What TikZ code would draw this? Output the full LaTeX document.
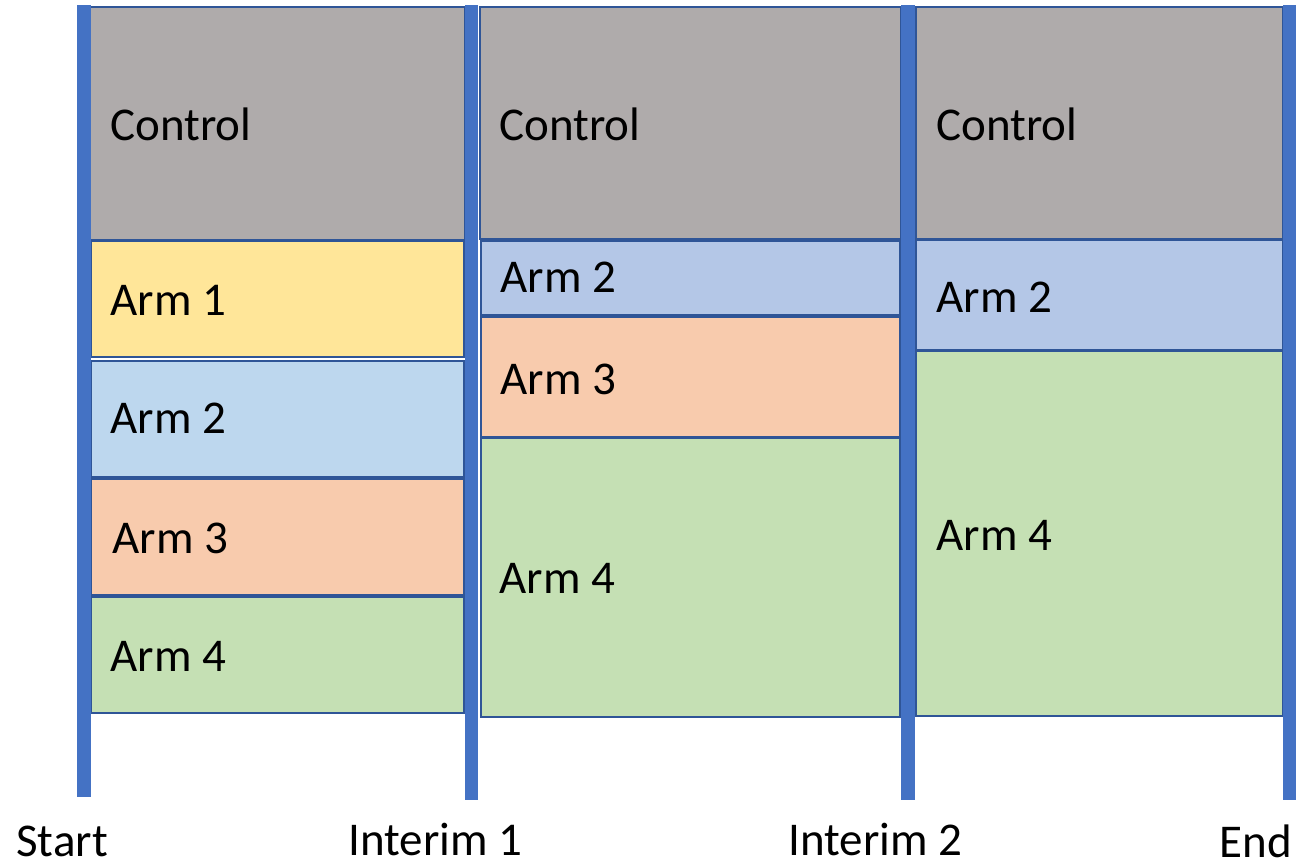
\documentclass[tikz,border=0pt]{standalone}
\usepackage{fontspec}
\setmainfont{Carlito}
\definecolor{ctrlgray}{HTML}{AFABAB}
\definecolor{armyellow}{HTML}{FFE699}
\definecolor{armsky}{HTML}{BDD7EE}
\definecolor{armblue}{HTML}{B4C7E7}
\definecolor{armpeach}{HTML}{F8CBAD}
\definecolor{armgreen}{HTML}{C5E0B4}
\definecolor{edgeblue}{HTML}{2F5597}
\definecolor{barblue}{HTML}{4472C4}
\tikzset{
  cell/.style={draw=edgeblue, line width=1.1pt},
  bar/.style={fill=barblue, draw=none},
  lbl/.style={anchor=base west, inner sep=0pt, font=\fontsize{23.5}{28}\selectfont},
}
\begin{document}
\begin{tikzpicture}[x=0.5pt, y=-0.5pt]
\useasboundingbox (0,0) rectangle (1306,867);

% first period
\path[cell, fill=ctrlgray]  (90,7)   rectangle (465,240);
\path[cell, fill=armyellow] (91,241) rectangle (464,357);
\path[cell, fill=armsky]    (91,361) rectangle (464,477);
\path[cell, fill=armpeach]  (91,479) rectangle (464,595);
\path[cell, fill=armgreen]  (91,597) rectangle (464,713);
\node[lbl] (c1) at (110,140) {Control};
\node[lbl] (a11) at (110,315) {Arm 1};
\node[lbl] (a12) at (110,433) {Arm 2};
\node[lbl] (a13) at (112,553) {Arm 3};
\node[lbl] (a14) at (110,671) {Arm 4};

% second period
\path[cell, fill=ctrlgray]  (480,7)   rectangle (901,239);
\path[cell, fill=armblue]   (481,241) rectangle (900,315);
\path[cell, fill=armpeach]  (481,317) rectangle (900,437);
\path[cell, fill=armgreen]  (481,438) rectangle (900,717);
\node[lbl] (c2) at (499,140) {Control};
\node[lbl] (a22) at (500,292) {Arm 2};
\node[lbl] (a23) at (500,394) {Arm 3};
\node[lbl] (a24) at (499,593) {Arm 4};

% third period
\path[cell, fill=ctrlgray]  (916,7)   rectangle (1283,239);
\path[cell, fill=armblue]   (916,240) rectangle (1283,350);
\path[cell, fill=armgreen]  (916,351) rectangle (1283,716);
\node[lbl] (c3) at (936,140) {Control};
\node[lbl] (a32) at (936,312) {Arm 2};
\node[lbl] (a34) at (936,550) {Arm 4};

% time markers
\path[bar] (77,5)    rectangle (91,797);
\path[bar] (465,5)   rectangle (478,800);
\path[bar] (901,5)   rectangle (915,800);
\path[bar] (1283,5)  rectangle (1296,800);

\node[lbl] (t0) at (16,856)  {Start};
\node[lbl] (t1) at (348,855) {Interim 1};
\node[lbl] (t2) at (788,855) {Interim 2};
\node[lbl] (t3) at (1219,857) {End};
\end{tikzpicture}
\end{document}
